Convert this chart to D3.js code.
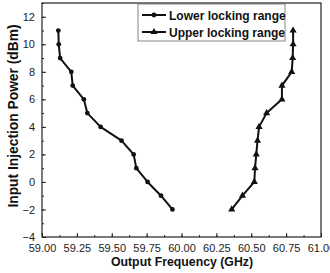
<!DOCTYPE html>
<html lang="en">
  <head>
    <meta charset="UTF-8" />
    <title>Locking range</title>
    <script src="https://cdn.jsdelivr.net/npm/d3@7"></script>
    <style>
      body { margin: 0; background: #fff; }
      svg { display: block; font-family: "Liberation Sans", Arial, sans-serif; }
    </style>
  </head>
  <body>
    <div id="main-div"></div>
    <script>
      // power levels (dBm) and frequencies (GHz)
      const power = [-2, -1, 0, 1, 2, 3, 4, 5, 6, 7, 8, 9, 10, 11];
      const lowerFreq = [59.935, 59.853, 59.757, 59.676, 59.657, 59.57, 59.42, 59.325, 59.30, 59.22, 59.21, 59.13, 59.12, 59.117];
      const upperFreq = [60.36, 60.437, 60.522, 60.527, 60.536, 60.545, 60.556, 60.61, 60.72, 60.72, 60.79, 60.797, 60.80, 60.80];
      const seriesNames = ["Lower locking range", "Upper locking range"];
      const xTicks = [59.0, 59.25, 59.5, 59.75, 60.0, 60.25, 60.5, 60.75, 61.0];
      const yTicks = [-4, -2, 0, 2, 4, 6, 8, 10, 12];

      let width = 330;
      let height = 273;
      let mLeft = 42, mRight = 321, mTop = 3, mBottom = 237;

      let svg = d3
        .select("#main-div")
        .append("svg")
        .attr("width", width)
        .attr("height", height);

      let x = d3.scaleLinear().domain([59, 61]).range([mLeft, mRight]);
      let y = d3.scaleLinear().domain([-4, 13]).range([mBottom, mTop]);

      // minor ticks
      let xMinor = d3.range(59, 61.0001, 0.125);
      let yMinor = d3.range(-4, 13.0001, 1);

      svg
        .append("g")
        .attr("transform", "translate(0," + mBottom + ")")
        .call(d3.axisBottom(x).tickValues(xMinor).tickSize(-2).tickFormat(""))
        .call((g) => g.select(".domain").remove());
      svg
        .append("g")
        .attr("transform", "translate(" + mLeft + ",0)")
        .call(d3.axisLeft(y).tickValues(yMinor).tickSize(-2).tickFormat(""))
        .call((g) => g.select(".domain").remove());

      // major ticks
      let xAxis = svg
        .append("g")
        .attr("transform", "translate(0," + mBottom + ")")
        .call(
          d3.axisBottom(x).tickValues(xTicks).tickSize(-4).tickPadding(7).tickFormat(d3.format(".2f"))
        );
      xAxis.select(".domain").remove();
      xAxis.selectAll("text").attr("font-size", 11).attr("fill", "#222").attr("font-family", "Liberation Sans, Arial, sans-serif");

      let yAxis = svg
        .append("g")
        .attr("transform", "translate(" + mLeft + ",0)")
        .call(d3.axisLeft(y).tickValues(yTicks).tickSize(-4).tickPadding(7));
      yAxis.select(".domain").remove();
      yAxis.selectAll("text").attr("font-size", 11).attr("fill", "#222").attr("font-family", "Liberation Sans, Arial, sans-serif");

      svg.selectAll(".tick line").attr("stroke", "#222");

      // frame
      svg
        .append("rect")
        .attr("x", mLeft)
        .attr("y", mTop)
        .attr("width", mRight - mLeft)
        .attr("height", mBottom - mTop)
        .attr("fill", "none")
        .attr("stroke", "#222")
        .attr("stroke-width", 1.2);

      let line = d3.line().x((d) => x(d[0])).y((d) => y(d[1]));
      let lowerData = lowerFreq.map((f, i) => [f, power[i]]);
      let upperData = upperFreq.map((f, i) => [f, power[i]]);

      svg.append("path").datum(lowerData).attr("d", line)
        .attr("fill", "none").attr("stroke", "#111").attr("stroke-width", 2).attr("stroke-linejoin", "round");
      svg.append("path").datum(upperData).attr("d", line)
        .attr("fill", "none").attr("stroke", "#111").attr("stroke-width", 2).attr("stroke-linejoin", "round");

      let circle = d3.symbol().type(d3.symbolCircle).size(18);
      let tri = d3.symbol().type(d3.symbolTriangle).size(22);

      svg.selectAll(".pl").data(lowerData).enter().append("path")
        .attr("d", circle)
        .attr("transform", (d) => "translate(" + x(d[0]) + "," + y(d[1]) + ")")
        .attr("fill", "#111");
      svg.selectAll(".pu").data(upperData).enter().append("path")
        .attr("d", tri)
        .attr("transform", (d) => "translate(" + x(d[0]) + "," + y(d[1]) + ")")
        .attr("fill", "#111");

      // legend
      svg.append("rect")
        .attr("x", 138).attr("y", 4).attr("width", 147).attr("height", 37)
        .attr("fill", "#fff").attr("stroke", "#666").attr("stroke-width", 0.8);
      let symbols = [circle, tri];
      seriesNames.forEach((name, i) => {
        let ly = 15 + i * 17;
        svg.append("line").attr("x1", 142).attr("x2", 166).attr("y1", ly).attr("y2", ly)
          .attr("stroke", "#111").attr("stroke-width", 2);
        svg.append("path").attr("d", symbols[i]).attr("transform", "translate(154," + ly + ")").attr("fill", "#111");
        svg.append("text").attr("x", 169).attr("y", ly + 4.5)
          .attr("font-size", 12).attr("font-weight", "bold").attr("fill", "#111")
          .text(name);
      });

      // axis titles
      svg.append("text")
        .attr("x", 182).attr("y", 266)
        .attr("text-anchor", "middle").attr("font-size", 12.3).attr("font-weight", "bold").attr("fill", "#111")
        .text("Output Frequency (GHz)");
      svg.append("text")
        .attr("transform", "translate(18,116) rotate(-90)")
        .attr("text-anchor", "middle").attr("font-size", 13.8).attr("font-weight", "bold").attr("fill", "#111")
        .text("Input Injection Power (dBm)");
    </script>
  </body>
</html>
